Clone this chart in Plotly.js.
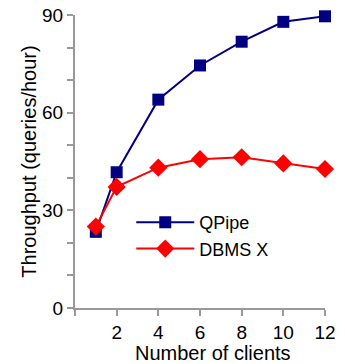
<!DOCTYPE html>
<html><head><meta charset="utf-8">
<script src="https://cdn.plot.ly/plotly-3.0.1.min.js"></script>
<style>html,body{margin:0;padding:0;background:#fff}#c{width:345px;height:364px}</style>
</head><body><div id="c"></div>
<script>
const clients = [1, 2, 4, 6, 8, 10, 12];
const qpipe = [23.4, 41.7, 64.0, 74.5, 81.8, 87.9, 89.6];
const dbmsx = [25.0, 37.2, 43.1, 45.7, 46.3, 44.4, 42.7];
const xTickVals = [0, 2, 4, 6, 8, 10, 12];
const xTickText = ['', '2', '4', '6', '8', '10', '12'];
const yTickVals = [0, 10, 20, 30, 40, 50, 60, 70, 80, 90];
const yTickText = ['0', '', '', '30', '', '', '60', '', '', '90'];

const font = {family: 'Arial, "Liberation Sans", sans-serif', color: '#000'};
const traces = [
  {x: clients, y: qpipe, name: 'QPipe', type: 'scatter', mode: 'lines+markers',
   line: {color: '#000080', width: 2}, marker: {symbol: 'square', size: 12, color: '#000080'}, cliponaxis: false},
  {x: clients, y: dbmsx, name: 'DBMS X', type: 'scatter', mode: 'lines+markers',
   line: {color: '#ff0000', width: 2}, marker: {symbol: 'diamond', size: 14, color: '#ff0000'}, cliponaxis: false}
];
const layout = {
  width: 345, height: 364,
  margin: {l: 75, r: 20, t: 15, b: 56},
  paper_bgcolor: '#fff', plot_bgcolor: '#fff',
  font: Object.assign({size: 19}, font),
  showlegend: true,
  legend: {x: 0.225, y: 0.355, xanchor: 'left', yanchor: 'top', bgcolor: 'rgba(0,0,0,0)',
    font: Object.assign({size: 18}, font), itemwidth: 58, tracegroupgap: 0},
  xaxis: {range: [0, 12], tickmode: 'array', tickvals: xTickVals, ticktext: xTickText,
    showgrid: false, zeroline: false, showline: true, linecolor: '#999', linewidth: 2,
    ticks: 'outside', ticklen: 6, tickcolor: '#999', tickwidth: 2,
    tickfont: Object.assign({size: 19}, font)},
  yaxis: {range: [0, 90], tickmode: 'array', tickvals: yTickVals, ticktext: yTickText,
    showgrid: false, zeroline: false, showline: true, linecolor: '#999', linewidth: 2,
    ticks: 'outside', ticklen: 6, tickcolor: '#999', tickwidth: 2,
    tickfont: Object.assign({size: 19}, font),
    title: {text: 'Throughput (queries/hour)', font: Object.assign({size: 20}, font), standoff: 0}},
  annotations: [{text: 'Number of clients', xref: 'paper', yref: 'paper', x: 0.552, y: -0.155,
    xanchor: 'center', yanchor: 'middle', showarrow: false, font: Object.assign({size: 20}, font)}]
};
Plotly.newPlot('c', traces, layout, {staticPlot: true, displayModeBar: false});
</script></body></html>
